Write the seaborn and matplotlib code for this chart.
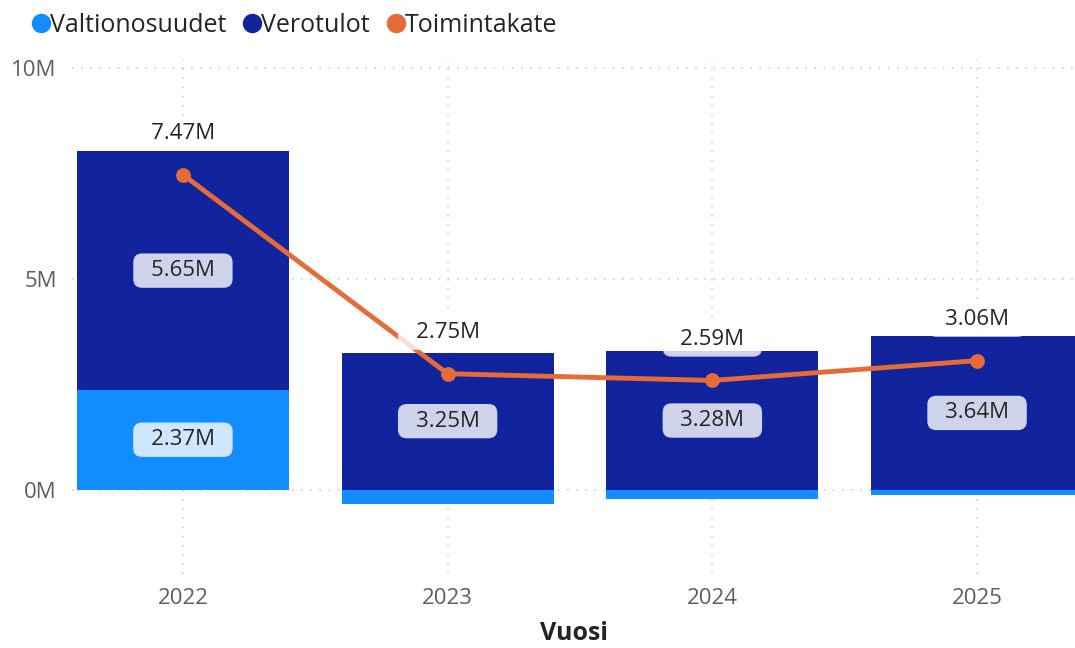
import matplotlib
matplotlib.use("Agg")
import matplotlib.pyplot as plt
import seaborn as sns
import pandas as pd
import numpy as np

# ---- data ----
years = ["2022", "2023", "2024", "2025"]
valtionosuudet = [2.37, -0.34, -0.23, -0.13]   # M€
verotulot = [5.65, 3.25, 3.28, 3.64]           # M€
toimintakate = [7.47, 2.75, 2.59, 3.06]        # M€

C_VALT = "#118DFF"
C_VERO = "#12239E"
C_TOIM = "#E66C37"
GRID = "#C8C6C4"
TICK = "#605E5C"
TXT = "#252423"

sns.set_theme(style="white")
plt.rcParams["font.family"] = ["Open Sans", "DejaVu Sans"]

W, H = 1075, 648
fig = plt.figure(figsize=(W / 100, H / 100), dpi=100)
ax_left, ax_right, ax_top, ax_bot = 72, 1075, 60, 574
ax = fig.add_axes([ax_left / W, 1 - ax_bot / H, (ax_right - ax_left) / W, (ax_bot - ax_top) / H])

df = pd.DataFrame({"Vuosi": years, "Valtionosuudet": valtionosuudet,
                   "Verotulot": verotulot, "Toimintakate": toimintakate})
df["pos_base"] = df["Valtionosuudet"].clip(lower=0)
df["vero_top"] = df["pos_base"] + df["Verotulot"]

# grid
for v in [0, 5, 10]:
    ax.axhline(v, color=GRID, linestyle=(0, (1, 5)), linewidth=1.1, zorder=0)
for i in range(len(years)):
    ax.axvline(i, color=GRID, linestyle=(0, (1, 5)), linewidth=1.1, zorder=0)

sns.barplot(data=df, x="Vuosi", y="vero_top", color=C_VERO, width=0.8,
            saturation=1, ax=ax, zorder=2, linewidth=0)
sns.barplot(data=df, x="Vuosi", y="Valtionosuudet", color=C_VALT, width=0.8,
            saturation=1, ax=ax, zorder=2, linewidth=0)
sns.pointplot(data=df, x="Vuosi", y="Toimintakate", color=C_TOIM, ax=ax,
              markers="o", markersize=8, linewidth=3.5, zorder=4)

# labels
lab_kw = dict(ha="center", va="center", fontsize=16, color=TXT, zorder=6)
box = dict(boxstyle="round,pad=0.3,rounding_size=0.4", fc="white", ec="none", alpha=0.8)
SP = "\u2002"
for i, r in df.iterrows():
    if r["Valtionosuudet"] > 0:
        ax.text(i, r["Valtionosuudet"] / 2, f"{SP}{r['Valtionosuudet']:.2f}M{SP}",
                bbox=box, **lab_kw)
    ax.text(i, r["pos_base"] + r["Verotulot"] / 2, f"{SP}{r['Verotulot']:.2f}M{SP}",
            bbox=box, **lab_kw)
    ax.annotate(f"{SP}{r['Toimintakate']:.2f}M{SP}", (i, r["Toimintakate"]),
                xytext=(0, 41), textcoords="offset pixels", bbox=box, **lab_kw)

ax.set_xlim(-0.419, 3.37)
ax.set_ylim(-2.0, 10.19)
ax.set_yticks([0, 5, 10])
ax.set_yticklabels(["0M", "5M", "10M"])
ax.tick_params(axis="y", length=0, pad=11, labelsize=16, labelcolor=TICK)
ax.tick_params(axis="x", length=0, pad=10, labelsize=16, labelcolor=TICK)
ax.set_ylabel("")
ax.set_xlabel("Vuosi", fontsize=18, fontweight="bold", color=TXT, labelpad=9)
for s in ax.spines.values():
    s.set_visible(False)

# legend
from matplotlib.lines import Line2D
handles = [Line2D([], [], marker="o", linestyle="", markersize=13, color=c)
           for c in (C_VALT, C_VERO, C_TOIM)]
fig.legend(handles, ["Valtionosuudet", "Verotulot", "Toimintakate"],
           loc="upper left", bbox_to_anchor=(16 / W, 1 - 3 / H), ncol=3,
           frameon=False, fontsize=18, handletextpad=-0.25, columnspacing=0.45,
           handlelength=1.2, borderaxespad=0, labelcolor=TXT)

fig.savefig("out.png", dpi=100)
